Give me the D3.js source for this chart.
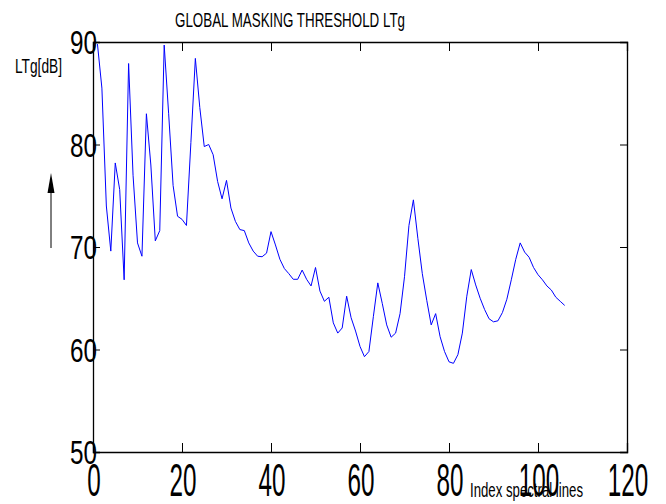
<!DOCTYPE html>
<html>
<head>
<meta charset="utf-8">
<script src="https://cdn.jsdelivr.net/npm/d3@7/dist/d3.min.js"></script>
<style>
  body { margin: 0; background: #fff; }
  svg { display: block; font-family: "Liberation Sans", Arial, sans-serif; }
</style>
</head>
<body>
<div id="chart"></div>
<script>
// LTg values, one per spectral line index (1..106)
const ltg = [
  89.8, 85.5, 74.0, 69.6, 78.2, 75.6, 66.8, 87.9, 77.0, 70.4,
  69.1, 83.0, 78.0, 70.6, 71.6, 89.7, 83.0, 76.0, 73.0, 72.7,
  72.1, 80.2, 88.4, 83.6, 79.8, 80.0, 79.0, 76.4, 74.7, 76.5,
  73.8, 72.5, 71.7, 71.6, 70.4, 69.6, 69.1, 69.05, 69.4, 71.5,
  70.2, 68.8, 67.9, 67.4, 66.85, 66.85, 67.75, 66.85, 66.2, 68.0,
  65.7, 64.7, 65.1, 62.6, 61.6, 62.1, 65.2, 63.1, 61.8, 60.3,
  59.3, 59.8, 63.2, 66.5, 64.5, 62.4, 61.2, 61.6, 63.5, 67.1,
  72.1, 74.6, 70.85, 67.4, 64.8, 62.4, 63.5, 61.25, 59.8, 58.8,
  58.65, 59.5, 61.6, 65.2, 67.8, 66.3, 65.0, 63.9, 63.0, 62.7,
  62.8, 63.6, 64.9, 66.8, 68.8, 70.4, 69.5, 69.0, 68.0, 67.3,
  66.8, 66.2, 65.8, 65.1, 64.7, 64.3
];
const xTicks = [0, 20, 40, 60, 80, 100, 120];
const yTicks = [50, 60, 70, 80, 90];
const title = "GLOBAL MASKING THRESHOLD LTg";
const yLabel = "LTg[dB]";
const xLabel = "Index spectral lines";

const W = 666, H = 504;
const plot = { left: 93, right: 627, top: 42, bottom: 452 };

const svg = d3.select("#chart").append("svg")
  .attr("width", W).attr("height", H);

const x = d3.scaleLinear().domain([0, 120]).range([plot.left, plot.right]);
const y = d3.scaleLinear().domain([50, 90]).range([plot.bottom, plot.top]);

// condensed text helper (the original glyphs are squeezed horizontally)
function squeezed(g, txt, px, py, size, len, anchor) {
  return g.append("text")
    .attr("x", px).attr("y", py)
    .attr("font-size", size)
    .attr("text-anchor", anchor || "start")
    .attr("textLength", len)
    .attr("lengthAdjust", "spacingAndGlyphs")
    .text(txt);
}

// data line
const line = d3.line()
  .x((d, i) => x(i + 1))
  .y(d => y(d));

svg.append("path")
  .datum(ltg)
  .attr("fill", "none")
  .attr("stroke", "#0000ff")
  .attr("stroke-width", 1)
  .attr("d", line);

// axes box with inward ticks
const tl = 9;
svg.append("g")
  .attr("transform", `translate(0,${plot.bottom})`)
  .call(d3.axisBottom(x).tickValues(xTicks).tickSize(-tl).tickFormat(""));
svg.append("g")
  .attr("transform", `translate(0,${plot.top})`)
  .call(d3.axisTop(x).tickValues(xTicks).tickSize(-tl).tickFormat(""));
svg.append("g")
  .attr("transform", `translate(${plot.left},0)`)
  .call(d3.axisLeft(y).tickValues(yTicks).tickSize(-7).tickFormat(""));
svg.append("g")
  .attr("transform", `translate(${plot.right},0)`)
  .call(d3.axisRight(y).tickValues(yTicks).tickSize(-7).tickFormat(""));

svg.selectAll(".domain").attr("stroke", "#000").attr("stroke-width", 1.3);
svg.selectAll(".tick line").attr("stroke", "#000");

// tick labels
const lab = svg.append("g").attr("fill", "#000");
xTicks.forEach(t => {
  const s = String(t);
  squeezed(lab, s, x(t) + 1, 496, 47, s.length * 13.5, "middle");
});
yTicks.forEach(t => {
  const s = String(t);
  squeezed(lab, s, plot.left + 4, y(t) + 12, 34, s.length * 13.5, "end");
});

// titles
squeezed(svg, title, 175, 27, 21, 230);
squeezed(svg, yLabel, 15, 73, 21, 47);
squeezed(svg, xLabel, 470, 497, 20, 113);

// arrow next to y label
svg.append("line")
  .attr("x1", 51).attr("x2", 51)
  .attr("y1", 248).attr("y2", 190)
  .attr("stroke", "#000").attr("stroke-width", 1);
svg.append("path")
  .attr("d", "M47.5,193 L51,173 L54.5,193 Z")
  .attr("fill", "#000");
</script>
</body>
</html>
